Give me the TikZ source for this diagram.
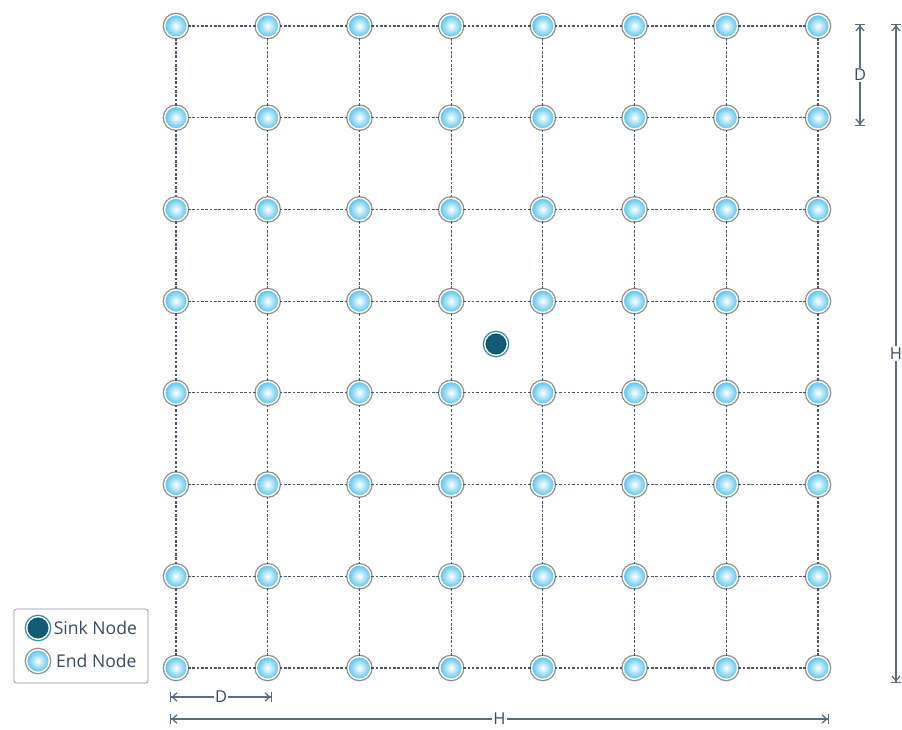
\documentclass[tikz,border=0pt]{standalone}
\usepackage{fontspec}
\setmainfont{Open Sans}
\usetikzlibrary{arrows.meta, positioning}

\definecolor{gridline}{HTML}{4A5568}
\definecolor{dimline}{HTML}{5C6B80}
\definecolor{endblue}{HTML}{55C3EC}
\definecolor{ringgray}{HTML}{8E8E8E}
\definecolor{sinkfill}{HTML}{135A77}
\definecolor{sinkring}{HTML}{2F8FB0}
\definecolor{labeltext}{HTML}{3B4A5E}
\definecolor{legendgray}{HTML}{8A94A0}

\tikzset{
    endnode/.style={circle, minimum size=0.68cm, inner sep=0pt,
        inner color=white, outer color=endblue, draw=white, line width=1.2pt,
        preaction={draw=ringgray, line width=3.4pt}},
    sinknode/.style={circle, minimum size=0.68cm, inner sep=0pt,
        fill=sinkfill, draw=white, line width=1.2pt,
        preaction={draw=sinkring, line width=3.4pt}},
    link/.style={draw=gridline, line width=0.9pt, dash pattern=on 2.2pt off 1.5pt},
    dimension/.style={dimline, line width=1.1pt,
        {Bar[width=9pt]Straight Barb[length=4pt,width=7pt]}-{Straight Barb[length=4pt,width=7pt]Bar[width=9pt]}},
    dimlabel/.style={fill=white, text=labeltext, inner sep=1pt, font=\fontsize{14pt}{16pt}\selectfont},
    legendtext/.style={text=labeltext, inner sep=0pt, font=\fontsize{15pt}{17pt}\selectfont},
}

\begin{document}
\begin{tikzpicture}[x=0.03cm, y=-0.03cm]
    \useasboundingbox (0,0) rectangle (902,729);

    % end nodes of the grid
    \foreach \i in {0,...,7}
        \foreach \j in {0,...,7}
            \node[endnode] (n-\i-\j) at ({176+91.71*\i},{26+91.71*\j}) {};

    \node[sinknode] (sink) at (496,344) {};

    % links between neighbours
    \foreach \i in {0,...,7}
        \foreach \j in {0,...,6} {
            \pgfmathtruncatemacro\k{\j+1}
            \draw[link] (n-\i-\j) -- (n-\i-\k);
            \draw[link] (n-\j-\i) -- (n-\k-\i);
        }

    % dimensions
    \coordinate (dv-top) at (860,24);
    \coordinate (dv-bot) at (860,126);
    \coordinate (hv-top) at (896,24);
    \coordinate (hv-bot) at (896,683);
    \coordinate (dh-left) at (170,697);
    \coordinate (dh-right) at (272,697);
    \coordinate (hh-left) at (170,719);
    \coordinate (hh-right) at (829,719);

    \draw[dimension] (dv-top) -- node[dimlabel] {D} (dv-bot);
    \draw[dimension] (hv-top) -- node[dimlabel] {H} (hv-bot);
    \draw[dimension] (dh-left) -- node[dimlabel] {D} (dh-right);
    \draw[dimension] (hh-left) -- node[dimlabel] {H} (hh-right);

    % legend
    \draw[legendgray, line width=0.6pt, rounded corners=2pt] (14,609) rectangle (148,683);
    \node[sinknode] (leg-sink) at (38,628) {};
    \node[endnode] (leg-end) at (38,661) {};
    \node[legendtext, right=3pt of leg-sink] (leg-sink-text) {Sink Node};
    \node[legendtext, right=5pt of leg-end] (leg-end-text) {End Node};
\end{tikzpicture}
\end{document}
